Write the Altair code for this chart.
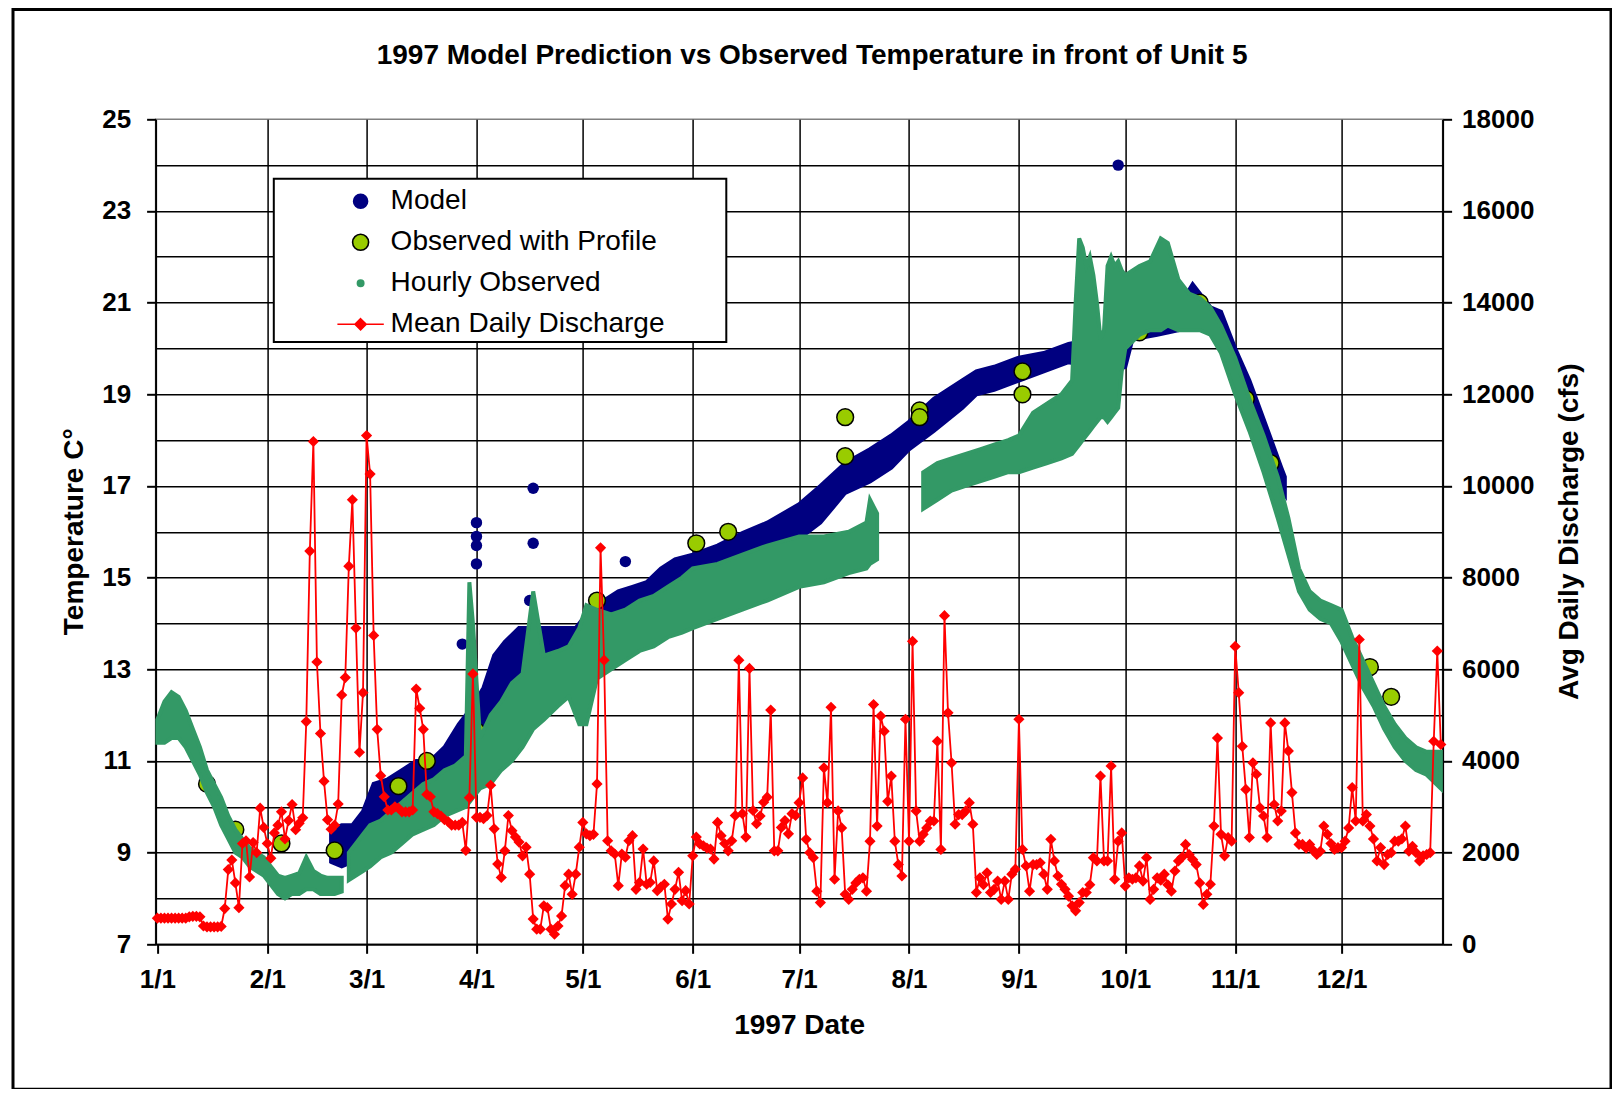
import altair as alt
import pandas as pd

# ---------------- data ----------------
# Mean daily discharge (cfs), one value per day starting 1/1/1997
q_jan = [570, 570, 570, 570, 570, 570, 570, 570, 570, 600, 610, 610, 600,
         400, 380, 380, 380, 380, 390, 780, 1630, 1840, 1340, 800, 2200,
         2260, 1470, 2220, 2000, 2970, 2550]
q_feb = [2200, 1880, 2430, 2600, 2890, 2300, 2700, 3050, 2500, 2640, 2760,
         4860, 8580, 10970, 6160, 4600, 3560, 2720, 2510, 2600, 3060, 5440,
         5820, 8250, 9700, 6900, 4190, 5490]
q_mar = [11100, 10260, 6740, 4690, 3680, 3220, 2930, 2930, 3000, 2970, 2890,
         2890, 2890, 2930, 5570, 5150, 4690, 3270, 3220, 2890, 2850, 2800,
         2720, 2680, 2600, 2600, 2600, 2660, 2050, 3200, 5900]
q_apr = [2770, 2770, 2740, 2810, 3470, 2520, 1750, 1460, 2040, 2810, 2480,
         2340, 2230, 1930, 2120, 1530, 550, 330, 330, 840, 800, 330, 220, 400,
         620, 1280, 1530, 1090, 1530, 2120]
q_may = [2660, 2410, 2370, 2400, 3500, 8650, 6200, 2260, 2040, 1970, 1280,
         1970, 1900, 2260, 2370, 1200, 1350, 2080, 1310, 1350, 1820, 1170,
         1250, 1310, 550, 880, 1200, 1570, 950, 1170, 880]
q_jun = [1930, 2340, 2190, 2150, 2100, 2080, 1860, 2660, 2370, 2200, 2040,
         2260, 2810, 6200, 2850, 2340, 6020, 2920, 2630, 2800, 3100, 3210,
         5110, 2040, 2040, 2550, 2700, 2410, 2850, 2810]
q_jul = [3090, 3630, 2290, 2000, 1890, 1160, 910, 3850, 3090, 5170, 1420,
         2910, 2540, 1090, 980, 1200, 1340, 1420, 1450, 1160, 2250, 5230,
         2580, 4980, 4650, 3120, 3670, 2250, 1740, 1490, 4910]
q_aug = [2250, 6610, 2910, 2250, 2400, 2540, 2690, 2690, 4430, 2070, 7170,
         5050, 3960, 2620, 2830, 2830, 2910, 3090, 2620, 1130, 1450, 1300,
         1560, 1130, 1200, 1380, 980, 1380, 980, 1530, 1640]
q_sep = [4910, 2070, 1710, 1160, 1740, 1740, 1780, 1530, 1200, 2290, 1820,
         1490, 1310, 1200, 1050, 840, 730, 910, 1130, 1130, 1300, 1890, 1820,
         3670, 1820, 1820, 3890, 1420, 2250, 2430]
q_oct = [1270, 1450, 1420, 1450, 1710, 1380, 1890, 980, 1200, 1450, 1400,
         1530, 1300, 1160, 1600, 1820, 1900, 2180, 1960, 1850, 1740, 1340,
         870, 1090, 1310, 2580, 4500, 2400, 1930, 2330, 2250]
q_nov = [6500, 5490, 4320, 3380, 2330, 3960, 3710, 2980, 2800, 2330, 4830,
         3050, 2690, 2910, 4830, 4220, 3310, 2430, 2180, 2180, 2100, 2180,
         2050, 1960, 2030, 2580, 2400, 2200, 2070, 2110]
q_dec = [2110, 2250, 2540, 3420, 2690, 6650, 2690, 2830, 2580, 2300, 1820,
         2110, 1740, 1960, 2000, 2250, 2250, 2300, 2580, 2030, 2140, 2000,
         1820, 1930, 1960, 2000, 4430, 6400, 4360]

# Model prediction: band (low / high) read along the year, plus scattered points
model_dates = ["1997-02-19", "1997-02-22", "1997-02-25", "1997-02-28", "1997-03-03",
               "1997-03-07", "1997-03-11", "1997-03-15", "1997-03-19", "1997-03-23",
               "1997-03-27", "1997-03-31", "1997-04-03", "1997-04-06", "1997-04-09",
               "1997-04-13", "1997-04-17", "1997-04-21", "1997-04-25", "1997-04-29",
               "1997-05-03", "1997-05-07", "1997-05-11", "1997-05-15", "1997-05-19",
               "1997-05-23", "1997-05-27", "1997-06-01", "1997-06-08", "1997-06-15",
               "1997-06-22", "1997-07-01", "1997-07-07", "1997-07-14", "1997-07-21",
               "1997-07-27", "1997-08-01", "1997-08-08", "1997-08-16", "1997-08-20",
               "1997-08-25", "1997-09-01", "1997-09-08", "1997-09-15", "1997-09-22",
               "1997-09-28", "1997-10-01", "1997-10-03", "1997-10-10", "1997-10-16",
               "1997-10-20", "1997-10-25", "1997-10-28", "1997-11-01", "1997-11-05",
               "1997-11-10", "1997-11-14", "1997-11-15"]
model_lo = [8.8, 8.7, 8.8, 9.1, 9.6, 9.8, 10.2, 10.4, 10.4, 10.5, 10.7, 10.9,
            11.2, 12.0, 12.4, 12.8, 13.0, 13.1, 13.2, 13.3, 13.6, 13.8, 14.0,
            14.2, 14.3, 14.6, 14.8, 14.95, 15.1, 15.3, 15.6, 15.85, 16.2, 16.85,
            17.1, 17.4, 17.8, 18.2, 18.7, 19.0, 19.1, 19.3, 19.5, 19.7, 19.6,
            19.5, 19.6, 20.2, 20.3, 20.4, 20.8, 20.5, 20.2, 19.3, 18.7, 17.55,
            16.9, 16.8]
model_hi = [9.5, 9.6, 9.6, 9.9, 10.5, 10.6, 10.8, 11.0, 11.0, 11.3, 11.8, 12.2,
            12.6, 13.3, 13.6, 13.9, 13.9, 13.9, 13.9, 13.9, 14.3, 14.5, 14.7,
            14.8, 14.9, 15.2, 15.4, 15.5, 15.7, 15.97, 16.2, 16.6, 17.0, 17.5,
            17.8, 18.1, 18.4, 18.9, 19.3, 19.5, 19.6, 19.8, 19.9, 20.1, 20.2,
            20.3, 20.8, 20.7, 20.7, 20.9, 21.4, 20.9, 20.8, 20.0, 19.3, 18.25,
            17.4, 17.2]
model_pt_dates = ["1997-03-28", "1997-04-01", "1997-04-01", "1997-04-01", "1997-04-01",
                  "1997-04-16", "1997-04-17", "1997-04-17", "1997-05-13", "1997-09-29"]
model_pt_temp = [13.55, 16.2, 15.9, 15.7, 15.3, 14.5, 16.95, 15.75, 15.35, 24.0]

# Observed with profile
profile_dates = ["1997-01-15", "1997-01-23", "1997-02-05", "1997-02-20", "1997-03-10",
                 "1997-03-18", "1997-04-01", "1997-04-09", "1997-05-05", "1997-05-07",
                 "1997-06-02", "1997-06-11", "1997-07-14", "1997-07-14", "1997-08-04",
                 "1997-08-04", "1997-09-02", "1997-09-02", "1997-10-05", "1997-10-22",
                 "1997-11-04", "1997-11-11", "1997-12-09", "1997-12-15"]
profile_temp = [10.5, 9.5, 9.2, 9.05, 10.45, 11.0, 11.65, 12.0, 14.5, 13.5, 15.75,
                16.0, 18.5, 17.65, 18.65, 18.5, 19.5, 19.0, 20.35, 21.0, 18.9, 17.5,
                13.05, 12.4]

# Hourly observed: spread (low / high) read along the year, three recording periods
hourly1_dates = ["1997-01-01", "1997-01-03", "1997-01-05", "1997-01-07", "1997-01-09",
                 "1997-01-11", "1997-01-13", "1997-01-15", "1997-01-17", "1997-01-19",
                 "1997-01-21", "1997-01-23", "1997-01-25", "1997-01-27", "1997-01-29",
                 "1997-01-31", "1997-02-02", "1997-02-04", "1997-02-06", "1997-02-08",
                 "1997-02-10", "1997-02-12", "1997-02-14", "1997-02-16", "1997-02-18",
                 "1997-02-20", "1997-02-22"]
hourly1_lo = [11.4, 11.4, 11.5, 11.5, 11.3, 11.0, 10.7, 10.3, 10.0, 9.6, 9.3, 9.0,
              8.9, 8.7, 8.6, 8.5, 8.3, 8.1, 8.0, 8.1, 8.1, 8.2, 8.2, 8.1, 8.1, 8.1,
              8.15]
hourly1_hi = [11.9, 12.3, 12.5, 12.4, 12.1, 11.7, 11.3, 10.8, 10.5, 10.2, 9.8, 9.5,
              9.3, 9.1, 9.0, 8.9, 8.7, 8.5, 8.45, 8.5, 8.55, 8.9, 8.6, 8.5, 8.45,
              8.45, 8.45]

hourly2_dates = ["1997-02-24", "1997-02-26", "1997-02-28", "1997-03-02", "1997-03-05",
                 "1997-03-08", "1997-03-11", "1997-03-14", "1997-03-17", "1997-03-20",
                 "1997-03-23", "1997-03-26", "1997-03-29", "1997-03-30", "1997-03-31",
                 "1997-04-02", "1997-04-05", "1997-04-08", "1997-04-11", "1997-04-14",
                 "1997-04-17", "1997-04-20", "1997-04-24", "1997-04-27", "1997-04-30",
                 "1997-05-02", "1997-05-05", "1997-05-09", "1997-05-13", "1997-05-17",
                 "1997-05-21", "1997-05-25", "1997-05-29", "1997-06-01", "1997-06-08",
                 "1997-06-15", "1997-06-22", "1997-07-01", "1997-07-08", "1997-07-15",
                 "1997-07-20", "1997-07-21", "1997-07-23"]
hourly2_lo = [8.4, 8.5, 8.6, 8.7, 8.9, 9.0, 9.2, 9.4, 9.5, 9.6, 9.8, 9.9, 10.0, 10.1,
              10.2, 10.4, 10.5, 10.8, 11.0, 11.3, 11.7, 11.9, 12.2, 12.4, 11.8, 11.8,
              12.8, 13.0, 13.2, 13.4, 13.5, 13.7, 13.8, 13.9, 14.1, 14.3, 14.5, 14.8,
              14.9, 15.1, 15.2, 15.3, 15.4]
hourly2_hi = [9.0, 9.2, 9.4, 9.6, 9.7, 9.9, 10.1, 10.3, 10.5, 10.6, 10.8, 10.9, 11.1,
              14.9, 14.0, 11.5, 12.0, 12.3, 12.7, 12.9, 14.7, 13.3, 13.4, 13.5, 13.9,
              14.4, 14.3, 14.2, 14.3, 14.5, 14.6, 14.8, 15.0, 15.2, 15.3, 15.5, 15.7,
              15.9, 15.9, 16.0, 16.2, 16.7, 16.4]

hourly3_dates = ["1997-08-05", "1997-08-09", "1997-08-13", "1997-08-17", "1997-08-21",
                 "1997-08-25", "1997-08-29", "1997-09-01", "1997-09-05", "1997-09-09",
                 "1997-09-13", "1997-09-16", "1997-09-17", "1997-09-18", "1997-09-19",
                 "1997-09-20", "1997-09-21", "1997-09-22", "1997-09-23", "1997-09-24",
                 "1997-09-25", "1997-09-26", "1997-09-27", "1997-09-28", "1997-09-29",
                 "1997-09-30", "1997-10-01", "1997-10-05", "1997-10-08", "1997-10-11",
                 "1997-10-13", "1997-10-16", "1997-10-19", "1997-10-22", "1997-10-25",
                 "1997-10-28", "1997-11-01", "1997-11-05", "1997-11-09", "1997-11-13",
                 "1997-11-16", "1997-11-19", "1997-11-22", "1997-11-25", "1997-11-28",
                 "1997-12-01", "1997-12-04", "1997-12-07", "1997-12-10", "1997-12-13",
                 "1997-12-16", "1997-12-19", "1997-12-22", "1997-12-25", "1997-12-29"]
hourly3_lo = [16.5, 16.7, 16.9, 17.0, 17.1, 17.2, 17.3, 17.3, 17.4, 17.5, 17.6, 17.7,
              17.8, 17.9, 18.0, 18.1, 18.2, 18.3, 18.4, 18.5, 18.5, 18.4, 18.5, 18.6,
              18.7, 19.5, 20.0, 20.3, 20.4, 20.4, 20.5, 20.4, 20.4, 20.4, 20.3, 19.9,
              19.0, 18.2, 17.3, 16.3, 15.5, 14.7, 14.3, 14.1, 14.0, 13.6, 13.1, 12.6,
              12.2, 11.7, 11.3, 11.0, 10.8, 10.7, 10.4]
hourly3_hi = [17.3, 17.5, 17.6, 17.7, 17.8, 17.9, 18.0, 18.1, 18.6, 18.8, 19.0, 19.3,
              21.0, 22.4, 22.2, 21.8, 22.0, 21.6, 21.0, 20.2, 20.4, 21.8, 22.0, 21.8,
              21.9, 21.7, 21.6, 21.8, 21.9, 22.4, 22.3, 21.5, 21.2, 21.1, 20.9, 20.5,
              19.8, 18.9, 18.1, 17.2, 16.3, 15.2, 14.7, 14.5, 14.4, 14.3, 13.7, 13.2,
              12.7, 12.2, 11.8, 11.5, 11.3, 11.2, 11.2]

legend_labels = ["Model", "Observed with Profile", "Hourly Observed", "Mean Daily Discharge"]
chart_title = "1997 Model Prediction vs Observed Temperature in front of Unit 5"

# ---------------- tables ----------------
discharge = (q_jan + q_feb + q_mar + q_apr + q_may + q_jun + q_jul + q_aug
             + q_sep + q_oct + q_nov + q_dec)
q_df = pd.DataFrame({
    "date": pd.date_range("1997-01-01", periods=len(discharge), freq="D").strftime("%Y-%m-%d"),
    "q": discharge,
})
model_df = pd.DataFrame({"date": model_dates, "lo": model_lo, "hi": model_hi})
model_pts = pd.DataFrame({"date": model_pt_dates, "temp": model_pt_temp})
profile_df = pd.DataFrame({"date": profile_dates, "temp": profile_temp})
hourly_df = pd.concat([
    pd.DataFrame({"date": hourly1_dates, "lo": hourly1_lo, "hi": hourly1_hi, "seg": 1}),
    pd.DataFrame({"date": hourly2_dates, "lo": hourly2_lo, "hi": hourly2_hi, "seg": 2}),
    pd.DataFrame({"date": hourly3_dates, "lo": hourly3_lo, "hi": hourly3_hi, "seg": 3}),
], ignore_index=True)
legend_df = pd.DataFrame({"series": legend_labels})
one_row = pd.DataFrame({"k": [1]})


def ms(s):
    return int(pd.Timestamp(s, tz="UTC").value // 10**6)


# ---------------- styling ----------------
FONT = "Liberation Sans"
NAVY = "#000080"
LIME = "#99CC00"
GREEN = "#339966"
RED = "#FF0000"

X_DOMAIN = [ms("1996-12-31T12:00"), ms("1997-12-29T12:00")]
month_ticks = [ms(f"1997-{m:02d}-01") for m in range(1, 13)]

x_axis = alt.Axis(
    values=month_ticks,
    labelExpr="utcFormat(datum.value, '%-m/%-d')",
    title="1997 Date",
    grid=True, gridColor="#000000", gridWidth=1.5,
    gridOpacity={"condition": {"test": "utcmonth(datum.value) == 0", "value": 0}, "value": 1},
    tickSize=9, tickColor="black", tickWidth=2,
    domainColor="black", domainWidth=2,
    labelFont=FONT, labelFontSize=26, labelFontWeight="bold", labelColor="black",
    labelPadding=13, labelOverlap=False, labelFlush=False,
    titleFont=FONT, titleFontSize=28, titleFontWeight="bold", titleColor="black",
    titleY=81, titleBaseline="middle",
)
x_scale = alt.Scale(type="utc", domain=X_DOMAIN)

left_axis = alt.Axis(
    values=list(range(7, 26)),
    labelExpr="datum.value % 2 == 1 ? datum.label : ''",
    title="Temperature C°",
    grid=True, gridColor="#000000", gridWidth=1.5,
    gridOpacity={"condition": {"test": "datum.value == 7 || datum.value == 25", "value": 0}, "value": 1},
    tickOpacity={"condition": {"test": "datum.value % 2 == 0", "value": 0}, "value": 1},
    tickSize=9, tickColor="black", tickWidth=2,
    domainColor="black", domainWidth=2,
    labelFont=FONT, labelFontSize=26, labelFontWeight="bold", labelColor="black",
    labelPadding=16,
    titleFont=FONT, titleFontSize=28, titleFontWeight="bold", titleColor="black",
    titleAngle=270, titleX=-81, titleY=412, titleBaseline="middle", titleAlign="center",
)
left_scale = alt.Scale(domain=[7, 25], nice=False, zero=False)

right_axis = alt.Axis(
    orient="right",
    values=list(range(0, 18001, 2000)),
    format="d",
    title="Avg Daily Discharge (cfs)",
    grid=False,
    tickSize=9, tickColor="black", tickWidth=2,
    domainColor="black", domainWidth=2,
    labelFont=FONT, labelFontSize=26, labelFontWeight="bold", labelColor="black",
    labelPadding=10,
    titleFont=FONT, titleFontSize=28, titleFontWeight="bold", titleColor="black",
    titleAngle=270, titleX=127, titleY=412, titleBaseline="middle", titleAlign="center",
)
right_scale = alt.Scale(domain=[0, 18000], nice=False)


def X(field="date"):
    return alt.X(f"{field}:T", scale=x_scale, axis=x_axis)


def YL(field):
    return alt.Y(f"{field}:Q", scale=left_scale, axis=left_axis)


def circle_path(r):
    return f"M{-r},0A{r},{r} 0 1,0 {r},0A{r},{r} 0 1,0 {-r},0Z"


fill_range = [NAVY, LIME, GREEN, RED]
stroke_range = [NAVY, "#000000", GREEN, RED]
shape_range = [circle_path(0.875), circle_path(1.0), circle_path(0.4),
               "M-2.9,0L2.9,0M0,-0.7L0.7,0L0,0.7L-0.7,0Z"]

leg = alt.Legend(
    orient="none", legendX=191, legendY=68, title=None,
    labelFont=FONT, labelFontSize=28, labelColor="black", labelLimit=500,
    symbolSize=256, symbolStrokeWidth=1.6, rowPadding=13, labelOffset=16,
    padding=0,
)

# ---------------- layers ----------------
frame = alt.Chart(one_row).mark_rect(
    fill="white", fillOpacity=0, stroke="black", strokeWidth=3
).encode(x=alt.value(-142.6), x2=alt.value(1455.4), y=alt.value(-109.8), y2=alt.value(970))

title_text = alt.Chart(one_row).mark_text(
    text=chart_title, font=FONT, fontSize=28, fontWeight="bold", color="black",
    align="center", baseline="alphabetic",
).encode(x=alt.value(656.5), y=alt.value(-55.5))

legend_box = alt.Chart(one_row).mark_rect(
    fill="white", stroke="black", strokeWidth=2
).encode(x=alt.value(118.2), x2=alt.value(570.7), y=alt.value(59.4), y2=alt.value(222.7))

model_band = alt.Chart(model_df).mark_area(
    color=NAVY, opacity=1, stroke=NAVY, strokeWidth=4, interpolate="linear"
).encode(x=X(), y=YL("lo"), y2="hi:Q")

model_points = alt.Chart(model_pts).mark_circle(
    color=NAVY, size=130, opacity=1
).encode(x=X(), y=YL("temp"))

profile_points = alt.Chart(profile_df).mark_circle(
    fill=LIME, stroke="black", strokeWidth=1.5, size=280, opacity=1
).encode(x=X(), y=YL("temp"))

hourly_band = alt.Chart(hourly_df).mark_area(
    color=GREEN, opacity=1, stroke=GREEN, strokeWidth=4, interpolate="linear"
).encode(x=X(), y=YL("lo"), y2="hi:Q", detail="seg:N")

legend_layer = alt.Chart(legend_df).mark_point(filled=True, clip=True, opacity=1).encode(
    x=alt.value(-5000), y=alt.value(-5000),
    fill=alt.Fill("series:N", scale=alt.Scale(domain=legend_labels, range=fill_range), legend=leg),
    stroke=alt.Stroke("series:N", scale=alt.Scale(domain=legend_labels, range=stroke_range), legend=leg),
    shape=alt.Shape("series:N", scale=alt.Scale(domain=legend_labels, range=shape_range), legend=leg),
)

left = alt.layer(frame, title_text, legend_box, model_band, model_points,
                 profile_points, hourly_band, legend_layer)

yq = alt.Y("q:Q", scale=right_scale, axis=right_axis)
q_line = alt.Chart(q_df).mark_line(color=RED, strokeWidth=1.8).encode(x=X(), y=yq)
q_pts = alt.Chart(q_df).mark_point(
    filled=True, shape="diamond", size=125, color=RED, opacity=1
).encode(x=X(), y=yq)
right = alt.layer(q_line, q_pts)

chart = alt.layer(left, right).resolve_scale(y="independent").properties(
    width=1287, height=825,
    padding={"left": 147.6, "top": 111.3, "right": 169.4, "bottom": 144.7},
    autosize=alt.AutoSizeParams(type="none"),
    background="white",
).configure_view(stroke="#808080", strokeWidth=1.5)

chart.save("out.html", embed_options={"renderer": "svg", "actions": False})
